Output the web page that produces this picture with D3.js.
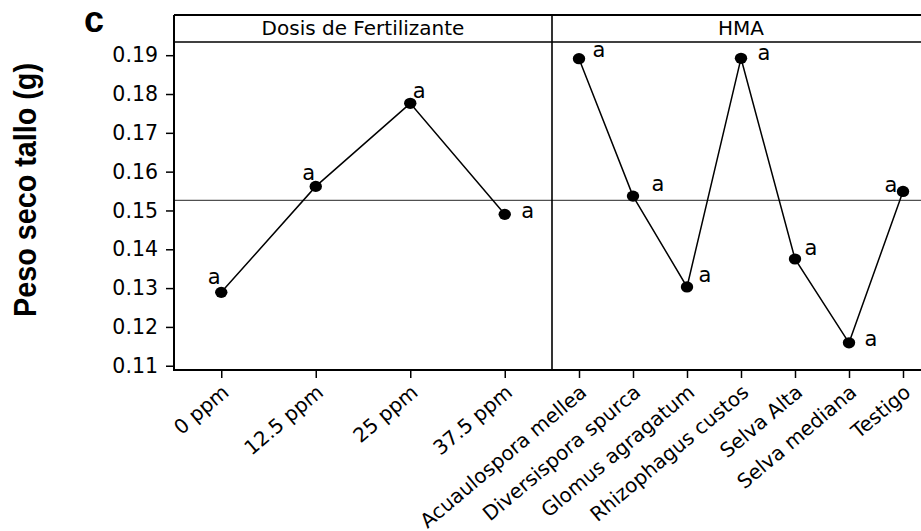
<!DOCTYPE html>
<html>
<head>
<meta charset="utf-8">
<script src="https://cdn.jsdelivr.net/npm/d3@7"></script>
<style>
  html, body { margin: 0; padding: 0; background: #fff; }
  svg { display: block; }
</style>
</head>
<body>
<svg id="chart" width="921" height="531"></svg>
<script>
// Main effects of fertilizer dose and AMF inoculum on stem dry weight
const doseCategories = ["0 ppm", "12.5 ppm", "25 ppm", "37.5 ppm"];
const doseMeans = [0.1289, 0.1562, 0.1776, 0.1490];
const doseLetters = ["a", "a", "a", "a"];

const hmaCategories = ["Acuaulospora mellea", "Diversispora spurca", "Glomus agragatum",
  "Rhizophagus custos", "Selva Alta", "Selva mediana", "Testigo"];
const hmaMeans = [0.1891, 0.1537, 0.1303, 0.1892, 0.1375, 0.1159, 0.1549];
const hmaLetters = ["a", "a", "a", "a", "a", "a", "a"];

const grandMean = 0.1526;
const yTicks = [0.11, 0.12, 0.13, 0.14, 0.15, 0.16, 0.17, 0.18, 0.19];
const panelTitles = ["Dosis de Fertilizante", "HMA"];
const yTitle = "Peso seco tallo (g)";
const panelTag = "c";

// Placement of the letter next to each point (pixels from the point)
const doseLetterNudge = [[-7, -15], [-7, -13], [9, -12], [23, -3]];
const hmaLetterNudge = [[20, -8], [25, -11], [18, -11], [23, -5], [16, -10], [22, -3], [-12, -6]];

const svg = d3.select("#chart");
const font = "'DejaVu Sans', Verdana, sans-serif";

const frameTop = 15, headerBottom = 42, plotBottom = 370;
const plotLeft = 174, panelSplit = 552, plotRight = 930;

const y = d3.scaleLinear().domain([0.1089, 0.1934]).range([plotBottom, headerBottom]);
const xDose = d3.scalePoint().domain(doseCategories).range([plotLeft, panelSplit]).padding(0.5);
const xHma = d3.scalePoint().domain(hmaCategories).range([panelSplit, plotRight]).padding(0.5);

// Grand mean reference line
svg.append("line")
  .attr("x1", plotLeft).attr("x2", plotRight)
  .attr("y1", y(grandMean)).attr("y2", y(grandMean))
  .attr("stroke", "#505050").attr("stroke-width", 1.3);

// Y axis
const yAxis = svg.append("g")
  .attr("transform", `translate(${plotLeft},0)`)
  .call(d3.axisLeft(y).tickValues(yTicks).tickFormat(d3.format(".2f")).tickSize(8).tickPadding(8));
yAxis.select(".domain").remove();
yAxis.selectAll(".tick line").attr("stroke", "#000").attr("stroke-width", 1.5);
yAxis.selectAll(".tick text")
  .attr("font-family", font).attr("font-size", 20.5).attr("fill", "#000");

// X axes with slanted category labels
function drawXAxis(scale) {
  const g = svg.append("g")
    .attr("transform", `translate(0,${plotBottom})`)
    .call(d3.axisBottom(scale).tickSize(8).tickPadding(6));
  g.select(".domain").remove();
  g.selectAll(".tick line").attr("stroke", "#000").attr("stroke-width", 1.5);
  g.selectAll(".tick text")
    .attr("font-family", font).attr("font-size", 20).attr("fill", "#000")
    .attr("text-anchor", "end")
    .attr("x", 0).attr("y", 0)
    .attr("dy", "0.35em")
    .attr("transform", "translate(4,19) rotate(-40)");
}
drawXAxis(xDose);
drawXAxis(xHma);

// Frame: header strip, panel divider and axis lines
const frame = svg.append("g").attr("stroke", "#000").attr("fill", "none");
frame.append("line").attr("x1", plotLeft).attr("x2", plotRight).attr("y1", frameTop).attr("y2", frameTop).attr("stroke-width", 2);
frame.append("line").attr("x1", plotLeft).attr("x2", plotRight).attr("y1", headerBottom).attr("y2", headerBottom).attr("stroke-width", 1.6);
frame.append("line").attr("x1", plotLeft).attr("x2", plotLeft).attr("y1", frameTop).attr("y2", plotBottom + 1).attr("stroke-width", 2);
frame.append("line").attr("x1", panelSplit).attr("x2", panelSplit).attr("y1", frameTop).attr("y2", plotBottom).attr("stroke-width", 1.6);
frame.append("line").attr("x1", plotLeft).attr("x2", plotRight).attr("y1", plotBottom).attr("y2", plotBottom).attr("stroke-width", 2);

// Panel titles
svg.selectAll("text.panel-title")
  .data(panelTitles)
  .join("text")
  .attr("class", "panel-title")
  .attr("x", (d, i) => i === 0 ? (plotLeft + panelSplit) / 2 : (panelSplit + plotRight) / 2)
  .attr("y", 35)
  .attr("text-anchor", "middle")
  .attr("font-family", font).attr("font-size", 20)
  .attr("fill", "#000")
  .text(d => d);

// Mean lines, points and letters for each factor
function drawSeries(scale, cats, vals, letters, nudge) {
  const pts = cats.map((c, i) => ({ c, v: vals[i], l: letters[i], n: nudge[i] }));
  svg.append("path")
    .datum(pts)
    .attr("fill", "none").attr("stroke", "#000").attr("stroke-width", 1.5)
    .attr("d", d3.line().x(d => scale(d.c)).y(d => y(d.v)));
  svg.append("g").selectAll("ellipse")
    .data(pts).join("ellipse")
    .attr("cx", d => scale(d.c)).attr("cy", d => y(d.v))
    .attr("rx", 6.2).attr("ry", 5.6)
    .attr("fill", "#000");
  svg.append("g").selectAll("text")
    .data(pts).join("text")
    .attr("x", d => scale(d.c) + d.n[0])
    .attr("y", d => y(d.v) + d.n[1])
    .attr("dy", "0.3em")
    .attr("text-anchor", "middle")
    .attr("font-family", font).attr("font-size", 21)
    .attr("fill", "#000")
    .text(d => d.l);
}
drawSeries(xDose, doseCategories, doseMeans, doseLetters, doseLetterNudge);
drawSeries(xHma, hmaCategories, hmaMeans, hmaLetters, hmaLetterNudge);

// Y axis title
svg.append("text")
  .attr("transform", "translate(36,190) rotate(-90)")
  .attr("text-anchor", "middle")
  .attr("font-family", "'Liberation Sans', Arial, sans-serif")
  .attr("font-weight", "bold").attr("font-size", 31)
  .attr("textLength", 254).attr("lengthAdjust", "spacingAndGlyphs")
  .attr("fill", "#000")
  .text(yTitle);

// Panel tag
svg.append("text")
  .attr("x", 84).attr("y", 32)
  .attr("font-family", "'Liberation Sans', Arial, sans-serif")
  .attr("font-weight", "bold").attr("font-size", 36)
  .attr("fill", "#000")
  .text(panelTag);
</script>
</body>
</html>
